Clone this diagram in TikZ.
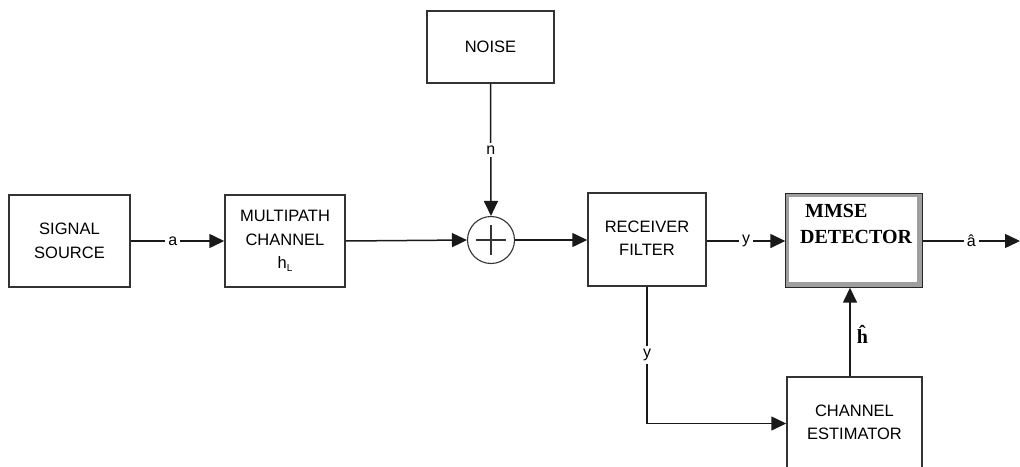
\documentclass[tikz,border=0pt]{standalone}
\usepackage{fontspec}
\setmainfont{Liberation Sans}
\newfontfamily\timesfont{Liberation Serif}
\usetikzlibrary{arrows.meta,calc}
\begin{document}
\begin{tikzpicture}[x=1pt,y=-1pt,
  box/.style={draw=black!80,line width=1.5pt,minimum width=#1,inner sep=0pt,align=center,
    font=\fontsize{16.5}{23.5}\selectfont,text=black},
  arr/.style={draw=black!90,line width=1.5pt,-{Triangle[length=15pt,width=14pt]}},
  lab/.style={fill=white,inner sep=3pt,font=\fontsize{16}{16}\selectfont,text=black}]
\useasboundingbox (0,0) rectangle (1020,466);
% boxes
\node[box=121pt,minimum height=92pt] (src) at (69.5,241) {SIGNAL\\SOURCE};
\node[box=120pt,minimum height=92pt] (mp) at (285,241) {MULTIPATH\\CHANNEL\\h\raisebox{-3pt}{\fontsize{10}{10}\selectfont L}};
\node[box=127pt,minimum height=72pt] (noise) at (490.5,47) {NOISE};
\node[draw=black!80,line width=1.1pt,circle,minimum size=47pt,inner sep=0pt] (sum) at (491,240) {};
\draw[line width=1.1pt,black!80] ($(sum.center)+(-15,0)$) -- ($(sum.center)+(15,0)$)
  ($(sum.center)+(0,-15)$) -- ($(sum.center)+(0,15)$);
\node[box=118pt,minimum height=93pt] (rx) at (647,239.5) {\raisebox{12pt}{\begin{tabular}{@{}c@{}}RECEIVER\\FILTER\end{tabular}}};
\node[draw=black!85,line width=1.4pt,fill=white,minimum width=136pt,minimum height=93pt,inner sep=0pt] (mmse) at (854,240.5) {};
\fill[gray!75] ($(mmse.north west)+(1,1)$) rectangle ($(mmse.south west)+(3.5,-1)$);
\fill[gray!75] ($(mmse.north west)+(1,1)$) rectangle ($(mmse.north east)+(-1,3.5)$);
\fill[gray!75] ($(mmse.north east)+(-1,1)$) rectangle ($(mmse.south east)+(-6,-1)$);
\fill[gray!75] ($(mmse.south west)+(1,-1)$) rectangle ($(mmse.south east)+(-1,-6)$);
\node[anchor=north west,align=left,inner sep=0pt,font=\timesfont\bfseries\fontsize{20}{26}\selectfont] (mmsetext) at (800,204)
  {\hspace*{5pt}MMSE\\DETECTOR};
\node[box=135pt,minimum height=93pt] (est) at (854.5,423.5) {\raisebox{4pt}{\begin{tabular}{@{}c@{}}CHANNEL\\ESTIMATOR\end{tabular}}};
% connectors
\coordinate (out) at (1020,241);
\coordinate (hx) at (850,0);
\draw[arr] (src.east) -- node[lab,pos=0.45] (la) {a} (mp.west);
\draw[arr] (mp.east) -- (sum.west);
\draw[arr] (noise.south) -- node[lab,pos=0.5] (ln) {n} (sum.north);
\draw[arr] (sum.east) -- (sum.east -| rx.west);
\draw[arr] (rx.east |- out) -- node[lab,pos=0.5] (ly) {y} (mmse.west |- out);
\draw[arr] (mmse.east |- out) -- node[lab,pos=0.5] (lahat) {â} (out);
\draw[arr] (est.north -| hx) -- node[pos=0.47,right=6pt,inner sep=0pt,font=\timesfont\bfseries\fontsize{20}{20}\selectfont] (lh) {ĥ} (mmse.south -| hx);
\draw[arr] (rx.south) -- node[lab,pos=0.5] (ly2) {y} (rx.south |- est.west) -- (est.west);
\end{tikzpicture}
\end{document}
